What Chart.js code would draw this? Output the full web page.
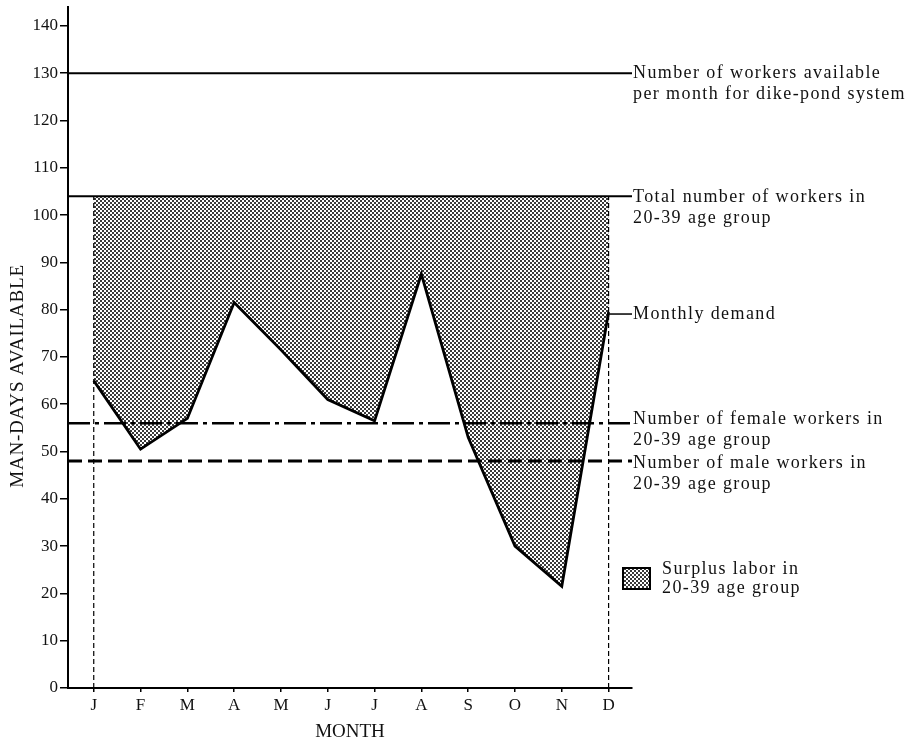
<!DOCTYPE html>
<html>
<head>
<meta charset="utf-8">
<script src="https://cdn.jsdelivr.net/npm/chart.js@4/dist/chart.umd.min.js"></script>
<style>
  html, body { margin: 0; padding: 0; background: #fff; }
  #wrap { width: 913px; height: 743px; position: relative; }
</style>
</head>
<body>
<div id="wrap"><canvas id="c" width="913" height="743"></canvas></div>
<script>
// ---- Data ----
const months = ['J', 'F', 'M', 'A', 'M', 'J', 'J', 'A', 'S', 'O', 'N', 'D'];
const monthlyDemand = [65, 50.5, 57, 81.5, 71.5, 61, 56.5, 87.5, 53, 30, 21.5, 79.5];
const dikePondWorkers = 130;
const totalWorkers2039 = 104;
const femaleWorkers2039 = 56;
const maleWorkers2039 = 48;
const yTickValues = [0, 10, 20, 30, 40, 50, 60, 70, 80, 90, 100, 110, 120, 130, 140];
const yAxisTitle = 'MAN-DAYS AVAILABLE';
const xAxisTitle = 'MONTH';
const legendLabel = ['Surplus labor in', '20-39 age group'];

// ---- Layout constants ----
const X_MIN = -0.55, X_MAX = 11.5, Y_MIN = 0, Y_MAX = 144;
const SERIF = '"Liberation Serif", "Times New Roman", serif';

// stipple pattern
function makePattern() {
  const p = document.createElement('canvas');
  p.width = 4; p.height = 4;
  const g = p.getContext('2d');
  g.fillStyle = '#fff'; g.fillRect(0, 0, 4, 4);
  g.fillStyle = '#3a3a3a';
  g.fillRect(0, 0, 2, 2);
  g.fillRect(2, 2, 2, 2);
  return document.getElementById('c').getContext('2d').createPattern(p, 'repeat');
}
const stipple = makePattern();

const lastIdx = months.length - 1;
const demandPts = monthlyDemand.map((v, i) => ({ x: i, y: v }));
const surplusTop = months.map((m, i) => ({ x: i, y: totalWorkers2039 }));
const hLine = v => [{ x: X_MIN, y: v }, { x: X_MAX, y: v }];
const vLine = i => [{ x: i, y: 0 }, { x: i, y: totalWorkers2039 }];

const rightLabels = [
  { value: dikePondWorkers, dy: 0, lines: ['Number of workers available', 'per month for dike-pond system'] },
  { value: totalWorkers2039, dy: 1, lines: ['Total number of workers in', '20-39 age group'] },
  { value: monthlyDemand[lastIdx], dy: 2, lines: ['Monthly demand'] },
  { value: femaleWorkers2039, dy: -4, lines: ['Number of female workers in', '20-39 age group'] },
  { value: maleWorkers2039, dy: 2, lines: ['Number of male workers in', '20-39 age group'] }
];

const annotPlugin = {
  id: 'annot',
  afterDraw(chart) {
    const ctx = chart.ctx, xs = chart.scales.x, ys = chart.scales.y, ca = chart.chartArea;
    ctx.save();
    // connector for monthly demand
    const dY = ys.getPixelForValue(monthlyDemand[lastIdx]) + 2;
    ctx.strokeStyle = '#000'; ctx.lineWidth = 1.5;
    ctx.beginPath(); ctx.moveTo(xs.getPixelForValue(lastIdx), dY); ctx.lineTo(ca.right, dY); ctx.stroke();

    ctx.fillStyle = '#111';
    ctx.font = '18px ' + SERIF;
    ctx.letterSpacing = '1.4px';
    ctx.textAlign = 'left';
    ctx.textBaseline = 'middle';
    const lx = ca.right + 1;
    rightLabels.forEach(l => {
      const y0 = ys.getPixelForValue(l.value) + l.dy;
      l.lines.forEach((t, k) => ctx.fillText(t, lx, y0 + k * 21));
    });

    // legend
    const bx = ca.right - 9, by = 568, bw = 27, bh = 21;
    ctx.fillStyle = stipple; ctx.fillRect(bx, by, bw, bh);
    ctx.lineWidth = 2; ctx.strokeStyle = '#000'; ctx.strokeRect(bx, by, bw, bh);
    ctx.fillStyle = '#111';
    ctx.fillText(legendLabel[0], ca.right + 30, 569);
    ctx.fillText(legendLabel[1], ca.right + 30, 588);

    // y axis title
    ctx.save();
    ctx.translate(18, 376);
    ctx.rotate(-Math.PI / 2);
    ctx.textAlign = 'center';
    ctx.font = '19px ' + SERIF;
    ctx.letterSpacing = '0.8px';
    ctx.fillText(yAxisTitle, 0, 0);
    ctx.restore();
    ctx.restore();
  }
};

new Chart(document.getElementById('c'), {
  type: 'line',
  data: {
    datasets: [
      { label: 'Monthly demand', data: demandPts, borderColor: '#000', borderWidth: 2.8, pointRadius: 0, tension: 0, fill: false, order: 0 },
      { label: 'Surplus', data: surplusTop, borderWidth: 0, borderColor: 'rgba(0,0,0,0)', pointRadius: 0, fill: { target: 0 }, backgroundColor: stipple, order: 10 },
      { label: 'dike-pond', data: hLine(dikePondWorkers), borderColor: '#000', borderWidth: 2, pointRadius: 0, fill: false, order: 1 },
      { label: 'total', data: hLine(totalWorkers2039), borderColor: '#000', borderWidth: 2, pointRadius: 0, fill: false, order: 1 },
      { label: 'female', data: hLine(femaleWorkers2039), borderColor: '#000', borderWidth: 2.5, borderDash: [22, 5, 4, 5], pointRadius: 0, fill: false, order: 1 },
      { label: 'male', data: hLine(maleWorkers2039), borderColor: '#000', borderWidth: 3, borderDash: [14, 6], pointRadius: 0, fill: false, order: 1 },
      { label: 'vJ', data: vLine(0), borderColor: '#000', borderWidth: 1.2, borderDash: [5, 3], pointRadius: 0, fill: false, order: 1 },
      { label: 'vD', data: vLine(lastIdx), borderColor: '#000', borderWidth: 1.2, borderDash: [5, 3], pointRadius: 0, fill: false, order: 1 }
    ]
  },
  options: {
    responsive: false,
    animation: false,
    events: [],
    layout: { padding: { left: 0, top: 7, right: 281, bottom: 0 } },
    plugins: { legend: { display: false }, tooltip: { enabled: false }, title: { display: false } },
    scales: {
      x: {
        type: 'linear', min: X_MIN, max: X_MAX,
        afterBuildTicks: s => { s.ticks = months.map((m, i) => ({ value: i })); },
        afterFit: s => { s.height = 55; s.paddingLeft = 0; s.paddingRight = 0; },
        ticks: { autoSkip: false, maxRotation: 0, padding: 3, color: '#111', font: { family: SERIF, size: 17 },
                 callback: v => months[v] },
        grid: { drawOnChartArea: false, drawTicks: true, tickLength: 4, color: '#000', lineWidth: 1.5 },
        border: { display: true, color: '#000', width: 2 },
        title: { display: true, text: xAxisTitle, color: '#111', font: { family: SERIF, size: 19 }, padding: { top: 0, bottom: 0 } }
      },
      y: {
        type: 'linear', min: Y_MIN, max: Y_MAX,
        afterBuildTicks: s => { s.ticks = yTickValues.map(v => ({ value: v })); },
        afterFit: s => { s.width = 68; s.paddingTop = 0; s.paddingBottom = 0; },
        ticks: { padding: 2, color: '#111', font: { family: SERIF, size: 17 } },
        grid: { drawOnChartArea: false, drawTicks: true, tickLength: 8, color: '#000', lineWidth: 1.5 },
        border: { display: true, color: '#000', width: 2 },
        title: { display: false }
      }
    }
  },
  plugins: [annotPlugin]
});
</script>
</body>
</html>
